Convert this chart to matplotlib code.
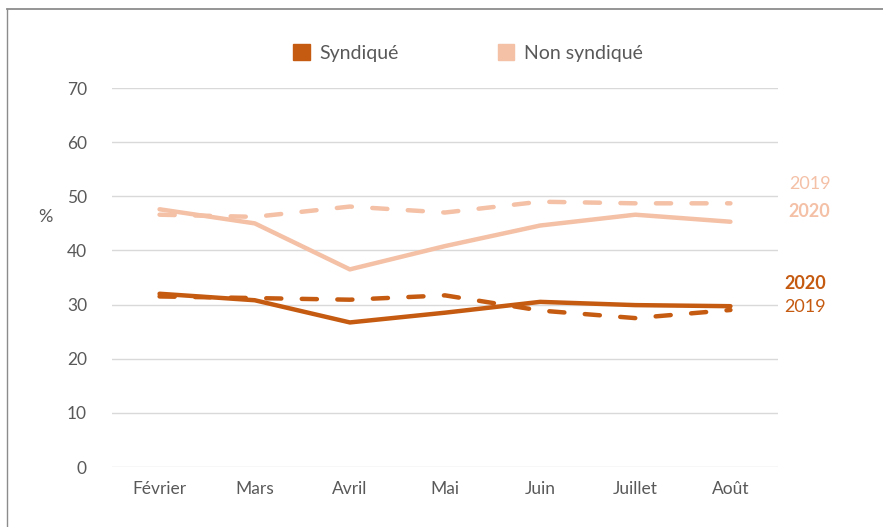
import matplotlib.pyplot as plt
from matplotlib.lines import Line2D
from matplotlib.patches import Patch

plt.rcParams['font.family'] = ['Lato', 'DejaVu Sans']

months = ['Février', 'Mars', 'Avril', 'Mai', 'Juin', 'Juillet', 'Août']
synd_2020 = [32.0, 30.8, 26.7, 28.5, 30.5, 29.9, 29.7]
synd_2019 = [31.5, 31.2, 30.9, 31.7, 28.9, 27.5, 29.0]
non_synd_2020 = [47.6, 45.0, 36.5, 40.8, 44.6, 46.6, 45.3]
non_synd_2019 = [46.6, 46.2, 48.1, 47.0, 49.0, 48.7, 48.7]

dark = '#C55A11'
light = '#F4C0A6'
grey = '#595959'

fig = plt.figure(figsize=(8.83, 5.27), dpi=100)
ax = fig.add_axes([112 / 883, 1 - 467 / 527, (778 - 112) / 883, (467 - 88) / 527])

x = range(len(months))
dash = (0, (3.4, 4.6))
ax.plot(x, non_synd_2019, color=light, lw=3.2, ls=dash, dash_capstyle='round')
ax.plot(x, non_synd_2020, color=light, lw=3.2, solid_capstyle='round')
ax.plot(x, synd_2019, color=dark, lw=3.2, ls=dash, dash_capstyle='round')
ax.plot(x, synd_2020, color=dark, lw=3.2, solid_capstyle='round')

ax.set_xlim(-0.5, len(months) - 0.5)
ax.set_ylim(0, 70)
ax.set_yticks(range(0, 71, 10))
ax.set_xticks(list(x))
ax.set_xticklabels(months)
ax.grid(axis='y', color='#D9D9D9', lw=1)
ax.set_axisbelow(True)
for s in ax.spines.values():
    s.set_visible(False)
ax.tick_params(length=0, labelsize=12.5, labelcolor=grey, pad=10)
ax.tick_params(axis='y', pad=18)

fig.text(45 / 883, 1 - 217 / 527, '%', fontsize=13, color=grey, ha='center', va='center')

# end labels
ax.annotate('2019', (6, non_synd_2019[-1]), xytext=(42, 14), textcoords='offset points',
            color=light, fontsize=13, va='center')
ax.annotate('2020', (6, non_synd_2019[-1]), xytext=(42, -6), textcoords='offset points',
            color=light, fontsize=13, fontweight='bold', va='center')
ax.annotate('2020', (6, synd_2020[-1]), xytext=(39, 16), textcoords='offset points',
            color=dark, fontsize=13, fontweight='bold', va='center')
ax.annotate('2019', (6, synd_2020[-1]), xytext=(39, -0.5), textcoords='offset points',
            color=dark, fontsize=13, va='center')

handles = [Patch(color=dark, label='Syndiqué'), Patch(color=light, label='Non syndiqué')]
fig.legend(handles=handles, loc='center', bbox_to_anchor=(468 / 883, 1 - 53 / 527), ncol=2,
           frameon=False, fontsize=14, handlelength=0.85, handleheight=0.85,
           columnspacing=5.1, handletextpad=0.5, labelcolor=grey)

# frame lines at left and top
fig.add_artist(Line2D([7 / 883, 7 / 883], [0, 1 - 8.5 / 527], color='#8C8C8C', lw=1))
fig.add_artist(Line2D([7 / 883, 1], [1 - 8.5 / 527, 1 - 8.5 / 527], color='#8C8C8C', lw=1.3))

fig.savefig('out.png', dpi=100)
